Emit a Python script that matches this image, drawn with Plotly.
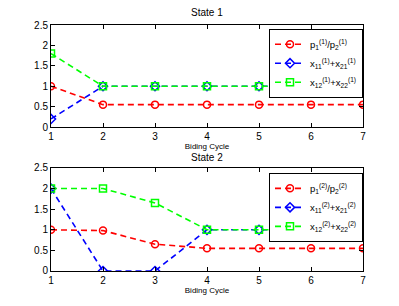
import plotly.graph_objects as go

cycles = [1, 2, 3, 4, 5, 6, 7]
s1_price_ratio = [1.0, 0.55, 0.55, 0.55, 0.55, 0.55, 0.55]
s1_x1 = [0.2, 1.0, 1.0, 1.0, 1.0, 1.0, 1.0]
s1_x2 = [1.8, 1.0, 1.0, 1.0, 1.0, 1.0, 1.0]
s2_price_ratio = [1.0, 0.98, 0.65, 0.55, 0.55, 0.55, 0.55]
s2_x1 = [2.0, 0.0, 0.0, 1.0, 1.0, 1.0, 1.0]
s2_x2 = [2.0, 2.0, 1.65, 1.0, 1.0, 1.0, 1.0]
y_ticks = [0, 0.5, 1, 1.5, 2, 2.5]
y_tick_labels = ["0", "0.5", "1", "1.5", "2", "2.5"]

fig = go.Figure()

def add_series(y, name, color, symbol, xa, ya, legend):
    fig.add_trace(go.Scatter(
        x=cycles, y=y, name=name, mode="lines+markers",
        line=dict(color=color, dash="6px,4px", width=1.6),
        marker=dict(symbol=symbol, size=7, color=color, line=dict(color=color, width=1.5)),
        xaxis=xa, yaxis=ya, legend=legend,
    ))

add_series(s1_price_ratio, "p<sub>1</sub><sup>(1)</sup>/p<sub>2</sub><sup>(1)</sup>", "#ff0000", "circle-open", "x", "y", "legend")
add_series(s1_x1, "x<sub>11</sub><sup>(1)</sup>+x<sub>21</sub><sup>(1)</sup>", "#0000ff", "diamond-open", "x", "y", "legend")
add_series(s1_x2, "x<sub>12</sub><sup>(1)</sup>+x<sub>22</sub><sup>(1)</sup>", "#00ff00", "square-open", "x", "y", "legend")
add_series(s2_price_ratio, "p<sub>1</sub><sup>(2)</sup>/p<sub>2</sub><sup>(2)</sup>", "#ff0000", "circle-open", "x2", "y2", "legend2")
add_series(s2_x1, "x<sub>11</sub><sup>(2)</sup>+x<sub>21</sub><sup>(2)</sup>", "#0000ff", "diamond-open", "x2", "y2", "legend2")
add_series(s2_x2, "x<sub>12</sub><sup>(2)</sup>+x<sub>22</sub><sup>(2)</sup>", "#00ff00", "square-open", "x2", "y2", "legend2")

axis_common = dict(showline=True, linecolor="black", linewidth=1, mirror="ticks",
                   ticks="inside", ticklen=4, tickcolor="black", showgrid=False,
                   zeroline=False, tickfont=dict(size=10, color="black"))

top_dom = [0.585, 1.0]
bot_dom = [0.0, 0.419]

fig.update_layout(
    width=399, height=306,
    margin=dict(l=51, r=36, t=25, b=35),
    paper_bgcolor="white", plot_bgcolor="white",
    font=dict(family="Liberation Sans, Arial, sans-serif", color="black", size=10),
    xaxis=dict(domain=[0, 1], anchor="y", range=[1, 7], tickvals=cycles,
               title=dict(text="Biding Cycle", font=dict(size=8, color="black"), standoff=1), **axis_common),
    yaxis=dict(domain=top_dom, anchor="x", range=[0, 2.5], tickvals=y_ticks,
               ticktext=y_tick_labels, **axis_common),
    xaxis2=dict(domain=[0, 1], anchor="y2", range=[1, 7], tickvals=cycles,
                title=dict(text="Biding Cycle", font=dict(size=8, color="black"), standoff=1), **axis_common),
    yaxis2=dict(domain=bot_dom, anchor="x2", range=[0, 2.5], tickvals=y_ticks,
                ticktext=y_tick_labels, **axis_common),
    showlegend=True,
    legend=dict(x=1, y=0.985, xanchor="right", yanchor="top", bgcolor="white",
                bordercolor="black", borderwidth=1, font=dict(size=9.5),
                tracegroupgap=0, itemwidth=30),
    legend2=dict(x=1, y=bot_dom[1] - 0.02, xanchor="right", yanchor="top", bgcolor="white",
                 bordercolor="black", borderwidth=1, font=dict(size=9.5),
                 tracegroupgap=0, itemwidth=30),
    annotations=[
        dict(text="State 1", x=0.5, y=1, xref="paper", yref="paper", xanchor="center",
             yanchor="bottom", yshift=5, showarrow=False, font=dict(size=10)),
        dict(text="State 2", x=0.5, y=bot_dom[1], xref="paper", yref="paper", xanchor="center",
             yanchor="bottom", yshift=3, showarrow=False, font=dict(size=10)),
    ],
)

fig.write_html("out.html", config={"displayModeBar": False},
               post_script="document.body.style.margin='0';")
